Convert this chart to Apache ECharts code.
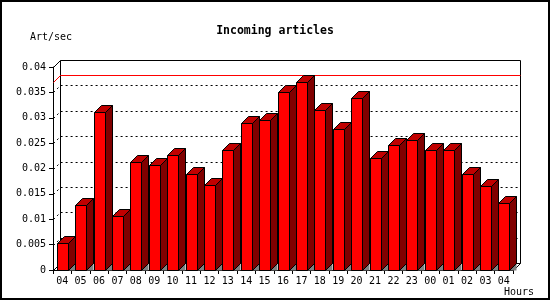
<!DOCTYPE html>
<html>
<head>
<meta charset="utf-8">
<script src="https://cdn.jsdelivr.net/npm/echarts@6/dist/echarts.min.js"></script>
<style>
html,body{margin:0;padding:0;background:#fff;}
#chart{width:550px;height:300px;}
</style>
</head>
<body>
<div id="chart"></div>
<script>
const titleText = 'Incoming articles';
const yName = 'Art/sec';
const xName = 'Hours';
const categories = ['04','05','06','07','08','09','10','11','12','13','14','15','16','17','18','19','20','21','22','23','00','01','02','03','04'];
const values = [0.0053, 0.0128, 0.0311, 0.0106, 0.0212, 0.0206, 0.0227, 0.0189, 0.0167, 0.0236, 0.0289, 0.0296, 0.0350, 0.0370, 0.0315, 0.0277, 0.0338, 0.0220, 0.0246, 0.0256, 0.0236, 0.0236, 0.0189, 0.0165, 0.0133];
const yTicks = [0, 0.005, 0.01, 0.015, 0.02, 0.025, 0.03, 0.035, 0.04];
const maxValue = Math.max.apply(null, values);

const D = 7; // 3D depth in pixels
const FONT = "'DejaVu Sans Mono', 'Liberation Mono', monospace";
const px = v => Math.round(v) + 0.5;

const chart = echarts.init(document.getElementById('chart'), null, {renderer: 'canvas'});

function renderWall(params, api) {
  const cs = params.coordSys;
  const x0 = px(cs.x), y0 = px(cs.y), x1 = px(cs.x + cs.width), y1 = px(cs.y + cs.height);
  const children = [];
  children.push({type: 'rect', shape: {x: x0 + D, y: y0 - D, width: x1 - x0, height: y1 - y0},
    style: {fill: null, stroke: '#000', lineWidth: 1}});
  [[x0, y0], [x0, y1], [x1, y1]].forEach(p => {
    children.push({type: 'line', shape: {x1: p[0], y1: p[1], x2: p[0] + D, y2: p[1] - D},
      style: {stroke: '#000', lineWidth: 1}});
  });
  yTicks.forEach(t => {
    if (t <= yTicks[0] || t >= yTicks[yTicks.length - 1]) return;
    const y = px(api.coord([0, t])[1]);
    children.push({type: 'polyline', shape: {points: [[x0, y], [x0 + D, y - D], [x1 + D, y - D]]},
      style: {fill: null, stroke: '#000', lineWidth: 1, lineDash: [2, 3]}});
  });
  const ym = px(api.coord([0, api.value(1)])[1]);
  children.push({type: 'polyline', shape: {points: [[x0, ym], [x0 + D, ym - D], [x1 + D, ym - D]]},
    style: {fill: null, stroke: '#ff0000', lineWidth: 1}});
  return {type: 'group', children: children};
}

function renderBar(params, api) {
  const i = api.value(0), v = api.value(1);
  const top = api.coord([i, v]);
  const base = api.coord([i, 0]);
  const bw = 11;
  const xl = px(top[0] - bw / 2);
  const xr = xl + bw;
  const yt = px(top[1]);
  const yb = px(base[1]);
  const st = {stroke: '#000', lineWidth: 1, lineJoin: 'miter'};
  return {type: 'group', children: [
    {type: 'polygon', shape: {points: [[xr, yb], [xr + D, yb - D], [xr + D, yb]]},
      style: {fill: '#808080', stroke: null}},
    {type: 'polygon', shape: {points: [[xr, yt], [xr + D, yt - D], [xr + D, yb - D], [xr, yb]]},
      style: Object.assign({fill: '#800000'}, st)},
    {type: 'polygon', shape: {points: [[xl, yt], [xl + D, yt - D], [xr + D, yt - D], [xr, yt]]},
      style: Object.assign({fill: '#c00000'}, st)},
    {type: 'rect', shape: {x: xl, y: yt, width: bw, height: yb - yt},
      style: Object.assign({fill: '#ff0000'}, st)}
  ]};
}

const option = {
  backgroundColor: '#fff',
  animation: false,
  title: {
    text: titleText, left: 'center', top: 20,
    textStyle: {fontFamily: FONT, fontWeight: 'bold', fontSize: 11.5, color: '#000'}
  },
  grid: {left: 53, right: 37, top: 67, bottom: 30, containLabel: false},
  xAxis: {
    type: 'category', data: categories, boundaryGap: true,
    axisLine: {show: true, lineStyle: {color: '#000', width: 1}},
    axisTick: {show: true, interval: 0, length: 4, inside: false, lineStyle: {color: '#000'}},
    axisLabel: {interval: 0, margin: 6, color: '#000', fontFamily: FONT, fontSize: 10},
    splitLine: {show: false}
  },
  yAxis: {
    type: 'value', min: 0, max: 0.04, interval: 0.005,
    axisLine: {show: true, lineStyle: {color: '#000', width: 1}},
    axisTick: {show: true, length: 4, lineStyle: {color: '#000'}},
    axisLabel: {margin: 7, color: '#000', fontFamily: FONT, fontSize: 10,
      formatter: v => String(parseFloat(v.toFixed(4)))},
    splitLine: {show: false}
  },
  graphic: [
    {type: 'rect', shape: {x: 1, y: 1, width: 548, height: 298}, style: {fill: null, stroke: '#000', lineWidth: 2}, z: 100},
    {type: 'text', left: 30, top: 32, style: {text: yName, font: "10px 'DejaVu Sans Mono', monospace", fill: '#000'}},
    {type: 'text', left: 504, top: 287, style: {text: xName, font: "10px 'DejaVu Sans Mono', monospace", fill: '#000'}}
  ],
  series: [
    {type: 'custom', renderItem: renderWall, data: [[0, maxValue]], clip: false, z: 1, silent: true},
    {type: 'custom', renderItem: renderBar, data: values.map((v, i) => [i, v]), clip: false, z: 3, silent: true}
  ]
};
chart.setOption(option);
</script>
</body>
</html>
